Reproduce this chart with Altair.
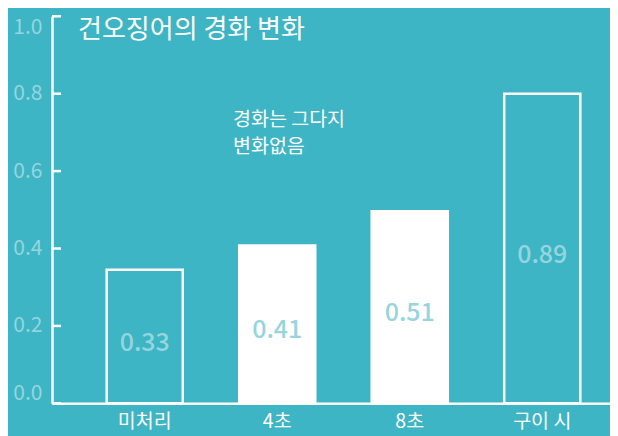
import altair as alt
import pandas as pd

categories = ["미처리", "4초", "8초", "구이 시"]
bar_values = [0.345, 0.408, 0.496, 0.80]
value_labels = ["0.33", "0.41", "0.51", "0.89"]
bar_styles = ["outline", "filled", "filled", "outline"]
y_ticks = [0.0, 0.2, 0.4, 0.6, 0.8, 1.0]
title_lines = ["가열 처리 시간에 따른", "건오징어의 경화 변화"]
note_lines = ["경화는 그다지", "변화없음"]

BG = "#3db5c4"
LIGHT = "#96d5dd"
FONT = "Noto Sans CJK KR"

df = pd.DataFrame({
    "cat": categories,
    "val": bar_values,
    "label": value_labels,
    "style": bar_styles,
})
df["mid"] = df["val"] / 2
ticks_df = pd.DataFrame({"t": y_ticks})

xscale = alt.Scale(domain=categories, paddingInner=0.426, paddingOuter=0.3185, align=0.648)
yscale = alt.Scale(domain=[0, 1], nice=False)

bars = alt.Chart(df).mark_bar(strokeWidth=2.5).encode(
    x=alt.X("cat:N", scale=xscale, sort=categories, title=None),
    y=alt.Y("val:Q", scale=yscale, title=None,
            axis=alt.Axis(values=y_ticks, format=".1f", labelFlush=True)),
    fill=alt.Fill("style:N", scale=alt.Scale(domain=["outline", "filled"], range=[BG, "white"]), legend=None),
    stroke=alt.Stroke("style:N", scale=alt.Scale(domain=["outline", "filled"], range=["white", "white"]), legend=None),
)

labels = alt.Chart(df).mark_text(font=FONT, fontSize=25, fontWeight=500, color=LIGHT, dy=6).encode(
    x=alt.X("cat:N", scale=xscale, sort=categories, title=None),
    y=alt.Y("mid:Q", scale=yscale, title=None),
    text="label:N",
)

tick_marks = alt.Chart(ticks_df).mark_rule(color="white", strokeWidth=2.5).encode(
    y=alt.Y("t:Q", scale=yscale, title=None),
    x=alt.value(0),
    x2=alt.value(9),
)

title1 = alt.Chart(pd.DataFrame({"t": [title_lines[0]]})).mark_text(
    font=FONT, fontSize=26, color="white", align="left", baseline="alphabetic"
).encode(text="t:N", x=alt.value(26), y=alt.value(-14))

title2 = alt.Chart(pd.DataFrame({"t": [title_lines[1]]})).mark_text(
    font=FONT, fontSize=26, color="white", align="left", baseline="alphabetic"
).encode(text="t:N", x=alt.value(26), y=alt.value(22))

note = alt.Chart(pd.DataFrame({"t": [note_lines]})).mark_text(
    font=FONT, fontSize=19.5, color="white", align="left", baseline="top", lineHeight=27
).encode(text="t", x=alt.value(181), y=alt.value(95))

chart = alt.layer(bars, labels, tick_marks, title1, title2, note).properties(
    width=558, height=387,
    autosize=alt.AutoSizeParams(type="none"),
    padding={"left": 44, "top": 8.3, "right": 0, "bottom": 32.7},
    background=BG,
).configure_view(
    stroke=None
).configure_axis(
    labelFont=FONT, ticks=False, grid=False, domainColor="white", domainWidth=2.5
).configure_axisX(
    labelColor="white", labelFontSize=19.5, labelPadding=9, labelAngle=0
).configure_axisY(
    labelColor=LIGHT, labelFontSize=21, labelPadding=10
)

chart.save("out.html", embed_options={"renderer": "svg", "actions": False})
